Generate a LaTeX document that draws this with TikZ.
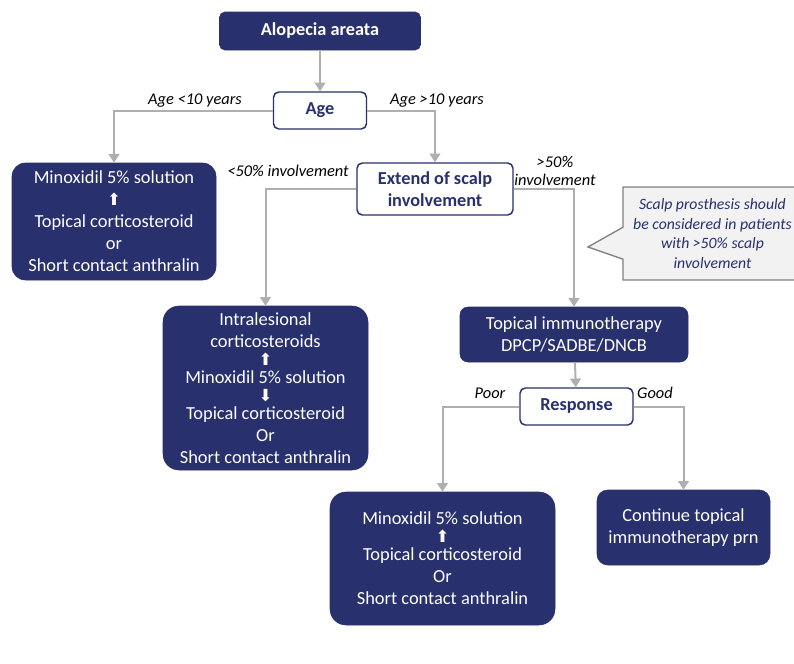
\documentclass[tikz,border=0pt]{standalone}
\usepackage{fontspec}
\setmainfont{Carlito}
\newfontfamily\arrowfont{DejaVu Sans}
\usetikzlibrary{arrows.meta,shapes.callouts}
\definecolor{navy}{RGB}{40,48,110}
\definecolor{linegray}{RGB}{175,175,175}
\definecolor{notegray}{RGB}{242,242,242}
\newcommand{\arrowup}{{\arrowfont\fontsize{12.5}{12.5}\selectfont ⬆}}
\newcommand{\arrowdown}{{\arrowfont\fontsize{12.5}{12.5}\selectfont ⬇}}
\begin{document}
\begin{tikzpicture}[x=0.75pt,y=-0.75pt,
    darkbox/.style={draw=navy,fill=navy,text=white,align=center,inner sep=0pt,
      font=\fontsize{13.8}{16.5}\selectfont,rounded corners=9pt},
    lightbox/.style={draw=navy,fill=white,text=navy,align=center,inner sep=0pt,
      line width=1.1pt,font=\bfseries\fontsize{13.7}{16.5}\selectfont,rounded corners=4pt},
    conn/.style={draw=linegray,line width=1.5pt,-{Triangle[width=8pt,length=6.5pt]}},
    lbl/.style={font=\itshape\fontsize{12.3}{13.5}\selectfont,align=center,inner sep=0pt},
    note/.style={rectangle callout,draw=gray,fill=notegray,text=navy,align=center,
      line width=1pt,inner sep=0pt,font=\itshape\fontsize{11.8}{14.6}\selectfont}]
      \useasboundingbox (0,0) rectangle (794,664);
      \clip (0,0) rectangle (794,664);
      \node[darkbox,font=\bfseries\fontsize{13.7}{16.5}\selectfont,minimum width=150.75pt,minimum height=28.5pt,rounded corners=4pt](top) at (320,31) {Alopecia areata};
      \node[lightbox,minimum width=69.75pt,minimum height=27.75pt](age) at (320,110.5) {Age};
      \node[darkbox,minimum width=153pt,minimum height=87.75pt,rounded corners=10pt](minl) at (114,221.5)
        {Minoxidil 5\% solution\\ \arrowup\\ Topical corticosteroid\\ or\\ Short contact anthralin};
      \node[lightbox,minimum width=117pt,minimum height=39pt](ext) at (435,189) {Extend of scalp\\ involvement};
      \node[darkbox,minimum width=153.75pt,minimum height=123pt,rounded corners=12pt](intra) at (265.5,388)
        {Intralesional\\ corticosteroids\\[-3pt] \arrowup\\[-3pt] Minoxidil 5\% solution\\[-3pt] \arrowdown\\[-3pt] Topical corticosteroid\\ Or\\ Short contact anthralin};
      \node[darkbox,minimum width=171pt,minimum height=41.25pt,rounded corners=6pt](immuno) at (574,334.5)
        {Topical immunotherapy\\ DPCP/SADBE/DNCB};
      \node[lightbox,minimum width=84.75pt,minimum height=27.75pt](resp) at (576.5,406.5) {Response};
      \node[darkbox,minimum width=168.75pt,minimum height=99.75pt,rounded corners=12pt](minb) at (442.5,558.5)
        {Minoxidil 5\% solution\\[-3pt] \arrowup\\[-3pt] Topical corticosteroid\\ Or\\ Short contact anthralin};
      \node[darkbox,minimum width=129.75pt,minimum height=56.25pt,rounded corners=8pt](cont) at (683.5,527.5)
        {Continue topical\\ immunotherapy prn};
      \node[note,minimum width=134.25pt,minimum height=69.75pt,callout absolute pointer={(588,247)},callout pointer width=24pt](prosth) at (712.5,233.5)
        {Scalp prosthesis should\\ be considered in patients\\ with >50\% scalp\\ involvement};
      \node[lbl](young) at (195,101) {Age <10 years};
      \node[lbl](old) at (437,101) {Age >10 years};
      \node[lbl](less) at (288,171) {<50\% involvement};
      \node[lbl](more) at (555,171) {>50\%\\ involvement};
      \node[lbl](poor) at (490,393) {Poor};
      \node[lbl](good) at (655,393) {Good};
      \draw[conn] (top) -- (age);
      \draw[conn] (age.west) -| (minl.north);
      \draw[conn] (age.east) -| (ext.north);
      \draw[conn] (ext.west) -| (intra.north);
      \draw[conn] (ext.east) -| (immuno.north);
      \draw[conn] (immuno) -- (resp);
      \draw[conn] (resp.west) -| (minb.north);
      \draw[conn] (resp.east) -| (cont.north);
\end{tikzpicture}
\end{document}
